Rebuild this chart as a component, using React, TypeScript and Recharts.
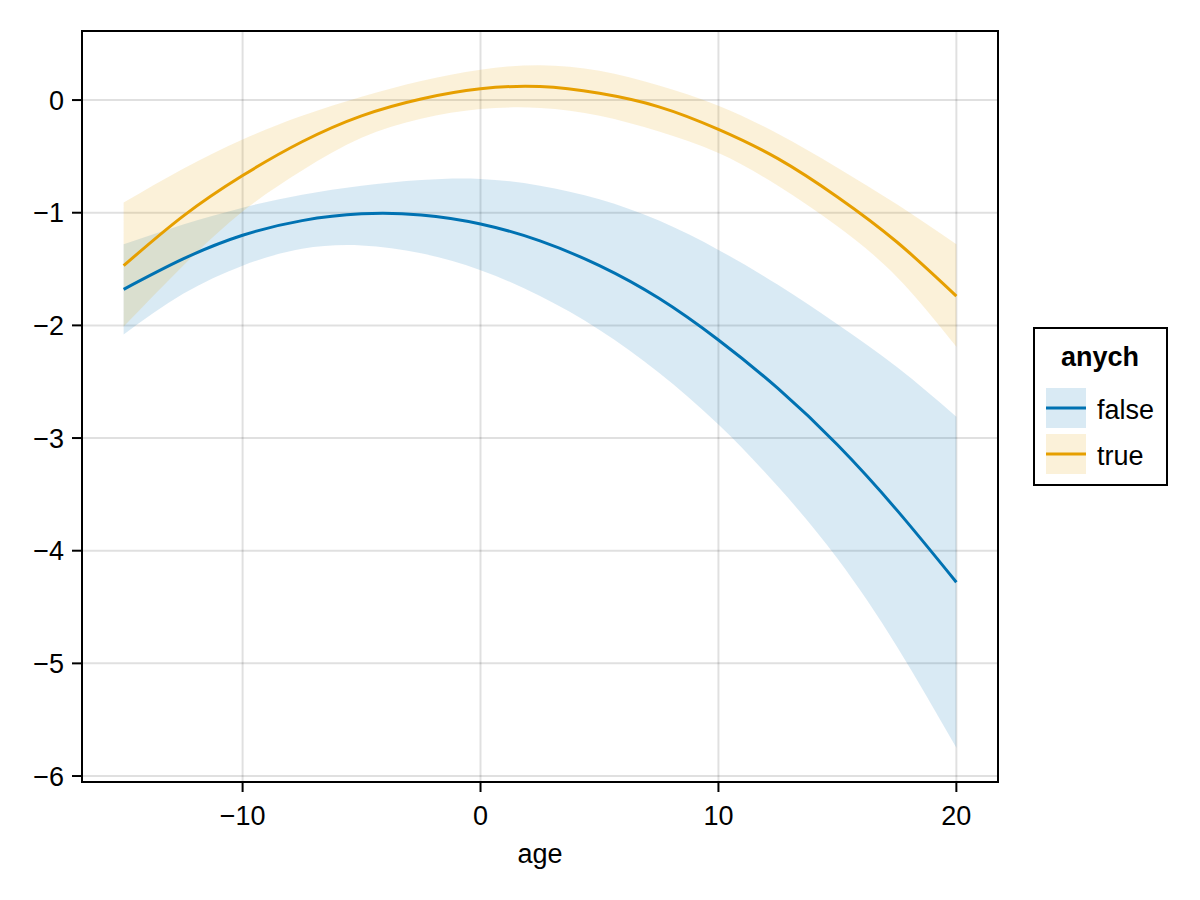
import { ComposedChart, Area, Line, XAxis, YAxis, CartesianGrid, ReferenceArea } from 'recharts';

// age grid of the fitted curves
const ages = [-15, -12.5, -10, -7.5, -5, -2.5, 0, 2.5, 5, 7.5, 10, 12.5, 15, 17.5, 20];

// anych = false
const falseFit = [-1.68, -1.41, -1.2, -1.07, -1.01, -1.02, -1.1, -1.25, -1.47, -1.76, -2.13, -2.56, -3.06, -3.64, -4.28];
const falseLower = [-2.08, -1.72, -1.47, -1.32, -1.29, -1.36, -1.51, -1.74, -2.04, -2.42, -2.88, -3.43, -4.07, -4.85, -5.75];
const falseUpper = [-1.28, -1.105, -0.955, -0.84, -0.76, -0.71, -0.7, -0.76, -0.88, -1.07, -1.33, -1.64, -1.99, -2.37, -2.81];

// anych = true
const trueFit = [-1.47, -1.03, -0.67, -0.37, -0.14, 0.01, 0.1, 0.12, 0.06, -0.06, -0.26, -0.52, -0.86, -1.26, -1.74];
const trueLower = [-2.01, -1.47, -0.99, -0.625, -0.335, -0.165, -0.08, -0.07, -0.14, -0.28, -0.47, -0.76, -1.12, -1.57, -2.19];
const trueUpper = [-0.91, -0.61, -0.35, -0.14, 0.03, 0.17, 0.27, 0.31, 0.26, 0.13, -0.05, -0.3, -0.6, -0.925, -1.28];

const xTicks = [-10, 0, 10, 20];
const yTicks = [-6, -5, -4, -3, -2, -1, 0];
const xDomain = [-16.75, 21.75];
const yDomain = [-6.053, 0.613];

const groups = [
    { name: 'false', color: '#0072B2' },
    { name: 'true', color: '#E69F00' },
];

const data = ages.map((age, i) => ({
    age,
    falseFit: falseFit[i],
    falseBand: [falseLower[i], falseUpper[i]],
    trueFit: trueFit[i],
    trueBand: [trueLower[i], trueUpper[i]],
}));

const font = "'Liberation Sans', Arial, Helvetica, sans-serif";
const fmt = (v: number) => String(v).replace('-', '\u2212');

function AgeLabel(props: any) {
    const vb = props.viewBox || {};
    return (
        <text x={vb.x + vb.width / 2} y={vb.y + 81} textAnchor="middle" fontSize={27} fontFamily={font} fill="#000">
            age
        </text>
    );
}

function GroupLegend() {
    return (
        <svg width={1200} height={900} style={{ position: 'absolute', left: 0, top: 0, pointerEvents: 'none' }}>
            <rect x={1034} y={328} width={133} height={157} fill="#fff" stroke="#000" strokeWidth={2} />
            <text x={1100} y={366} textAnchor="middle" fontSize={27} fontWeight="bold" fontFamily={font}>
                anych
            </text>
            {groups.map((g, i) => {
                const top = 388 + i * 46;
                return (
                    <g key={g.name}>
                        <rect x={1046} y={top} width={40} height={40} fill={g.color} fillOpacity={0.15} />
                        <line x1={1046} x2={1086} y1={top + 20} y2={top + 20} stroke={g.color} strokeWidth={3} />
                        <text x={1097} y={top + 31} fontSize={27} fontFamily={font}>
                            {g.name}
                        </text>
                    </g>
                );
            })}
        </svg>
    );
}

export default function App() {
    const axisStyle = { stroke: '#000', strokeWidth: 2 };
    const tickStyle = { fontSize: 27, fontFamily: font, fill: '#000' };
    return (
        <div style={{ position: 'absolute', left: 0, top: 0, width: 1200, height: 900, background: '#fff' }}>
            <ComposedChart width={1200} height={900} data={data} margin={{ top: 31, right: 202, bottom: 38, left: 0 }}>
                <CartesianGrid stroke="#000" strokeOpacity={0.12} strokeWidth={2} />
                <XAxis
                    dataKey="age"
                    type="number"
                    domain={xDomain}
                    allowDataOverflow
                    ticks={xTicks}
                    tickFormatter={fmt}
                    height={80}
                    tickSize={10}
                    tickMargin={14}
                    axisLine={axisStyle}
                    tickLine={axisStyle}
                    tick={tickStyle}
                    label={<AgeLabel />}
                />
                <YAxis
                    type="number"
                    domain={yDomain}
                    allowDataOverflow
                    ticks={yTicks}
                    tickFormatter={fmt}
                    width={82}
                    tickSize={10}
                    tickMargin={8}
                    axisLine={axisStyle}
                    tickLine={axisStyle}
                    tick={tickStyle}
                />
                <Area dataKey="falseBand" type="natural" fill={groups[0].color} fillOpacity={0.15} stroke="none" isAnimationActive={false} />
                <Line dataKey="falseFit" type="natural" stroke={groups[0].color} strokeWidth={3} dot={false} isAnimationActive={false} />
                <Area dataKey="trueBand" type="natural" fill={groups[1].color} fillOpacity={0.15} stroke="none" isAnimationActive={false} />
                <Line dataKey="trueFit" type="natural" stroke={groups[1].color} strokeWidth={3} dot={false} isAnimationActive={false} />
                <ReferenceArea
                    x1={xDomain[0]}
                    x2={xDomain[1]}
                    y1={yDomain[0]}
                    y2={yDomain[1]}
                    fill="none"
                    fillOpacity={0}
                    stroke="#000"
                    strokeWidth={2}
                    ifOverflow="visible"
                />
            </ComposedChart>
            <GroupLegend />
        </div>
    );
}
